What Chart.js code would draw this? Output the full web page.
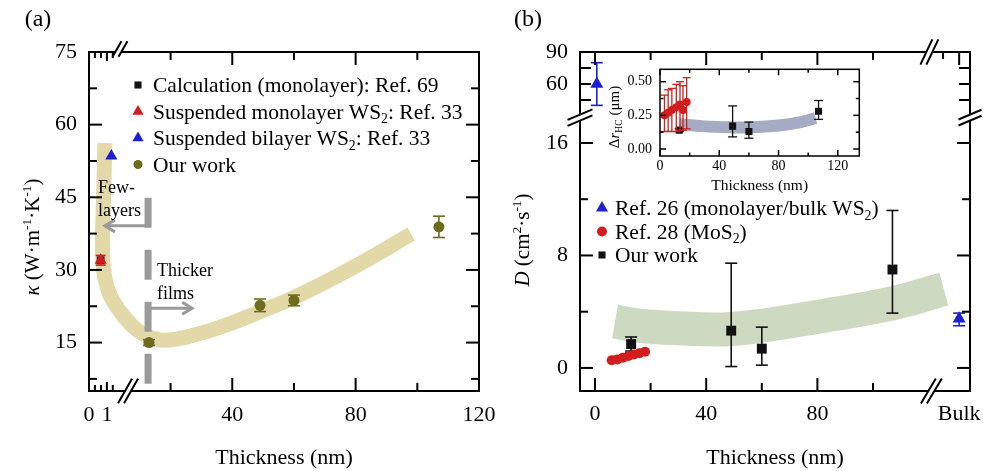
<!DOCTYPE html>
<html lang="en">
<head>
<meta charset="UTF-8">
<title>Thermal conductivity and hot-carrier diffusion vs thickness</title>
<script src="https://cdn.jsdelivr.net/npm/chart.js"></script>
<style>
  body { margin: 0; background: #fff; }
  #wrap { position: relative; width: 983px; height: 471px; }
  canvas { position: absolute; }
  #chartA { left: 0; top: 0; }
  #chartB { left: 490px; top: 0; }
  #inset { left: 596px; top: 60px; }
</style>
</head>
<body>
<div id="wrap">
  <canvas id="chartA" width="505" height="471"></canvas>
  <canvas id="chartB" width="493" height="471"></canvas>
  <canvas id="inset" width="270" height="140"></canvas>
</div>
<script>
// ---------- panel (a): kappa vs thickness ----------
const calcX = [0.65];               // Calculation (monolayer): Ref. 69
const calcK = [32];
const monoX = [0.65];               // Suspended monolayer WS2: Ref. 33
const monoK = [32];
const monoErr = [1];
const biX = [1.25];                 // Suspended bilayer WS2: Ref. 33
const biK = [53.5];
const ourAX = [13, 49, 60, 107];    // Our work
const ourAK = [15, 22.7, 23.7, 38.9];
const ourAErr = [0.6, 1.3, 1.1, 2.2];
// guide to the eye
const bandAX = [0.89, 0.81, 0.75, 0.78, 0.89, 1.11, 1.44, 1.89, 7.7, 12.3, 18.1, 28, 38, 49, 60, 80, 98];
const bandAK = [56.2, 44.4, 36.2, 31.6, 28.3, 25.4, 23.0, 20.7, 18.4, 16.4, 15.5, 16.6, 18.6, 21.4, 24.3, 30.8, 37.4];
const aXMajor = [0, 1, 40, 80, 120];
const aXMinor = [0.33, 0.67, 1.33, 20, 60, 100];
const aYMajor = [15, 30, 45, 60, 75];
const aYMinor = [7.5, 22.5, 37.5, 52.5, 67.5];

// ---------- panel (b): D vs thickness ----------
const ref26X = [0.65, 'Bulk'];      // Ref. 26 (monolayer/bulk WS2)
const ref26D = [60, 3.5];
const ref26Lo = [40, 3.0];
const ref26Hi = [80, 3.9];
const ref28X = [6, 8, 10, 12, 14, 16, 18];   // Ref. 28 (MoS2)
const ref28D = [0.55, 0.6, 0.72, 0.85, 0.95, 1.05, 1.15];
const ref28Err = [0.2, 0.2, 0.2, 0.2, 0.2, 0.2, 0.2];
const ourBX = [13, 49, 60, 107];    // Our work
const ourBD = [1.7, 2.65, 1.37, 7.0];
const ourBLo = [1.2, 0.1, 0.2, 3.9];
const ourBHi = [2.2, 7.45, 2.9, 11.2];
const bandBX = [7.2, 16, 30, 46, 60, 82, 106, 125.5];
const bandBD = [3.3, 3.0, 2.82, 2.74, 3.0, 3.7, 4.55, 5.6];
const bXMajor = [0, 40, 80];
const bXMinor = [20, 60, 100];
const bYMajor = [0, 8, 16, 60, 90];
const bYMinor = [4, 12, 45, 75];

// ---------- inset: delta r_HC vs thickness ----------
const insRedX = [3, 5.5, 8, 11, 13.5, 15.5, 18];
const insRedR = [0.25, 0.27, 0.29, 0.31, 0.33, 0.29, 0.35];
const insRedLo = [0.13, 0.13, 0.13, 0.13, 0.14, 0.14, 0.15];
const insRedHi = [0.40, 0.44, 0.45, 0.48, 0.50, 0.47, 0.53];
const insOurX = [13, 49, 60, 107];
const insOurR = [0.14, 0.17, 0.13, 0.28];
const insOurLo = [0.13, 0.09, 0.08, 0.22];
const insOurHi = [0.15, 0.32, 0.20, 0.36];
const insBandX = [13, 30, 50, 60, 80, 95, 105];
const insBandR = [0.185, 0.168, 0.16, 0.16, 0.175, 0.2, 0.23];
const insXMajor = [0, 40, 80, 120];
const insXMinor = [20, 60, 100];
const insYMajor = [0, 0.25, 0.5];
const insYMinor = [0.125, 0.375];

// ---------- broken axes ----------
// (a): thickness below 2 nm is stretched into the left strip
const A_X0 = -6.45, A_LEFT_SCALE = 5.8, A_LEFT_MAX = 2;
const ax = t => (t <= A_LEFT_MAX ? A_X0 + t * A_LEFT_SCALE : t);
const A_BREAK_TOP = 3.6, A_BREAK_BOTTOM = 6.2;
// (b): D above 20 goes into the compressed top strip, "Bulk" sits right of the break
const B_UP_AT_90 = 22.47, B_UP_K = 0.0759, B_LOW_MAX = 20, B_BULK = 131;
const by = d => (d <= B_LOW_MAX ? d : B_UP_AT_90 + (d - 90) * B_UP_K);
const bx = v => (v === 'Bulk' ? B_BULK : v);
const B_BREAK_X = 121, B_BREAK_Y = 17.8;

const OLIVE = '#6c6c1c', RED = '#d11d1d', BLUE = '#1e1ed4', BLACK = '#111', GREY = '#9a9a9a';
const FONT = '"Liberation Serif", "Times New Roman", serif';
Chart.defaults.font.family = FONT;

function fnt(size, italic) { return (italic ? 'italic ' : '') + size + 'px ' + FONT; }

function seg(ctx, x1, y1, x2, y2) { ctx.beginPath(); ctx.moveTo(x1, y1); ctx.lineTo(x2, y2); ctx.stroke(); }

// parts: [text, kind], kind = 'n' | 'i' | 'sub' | 'sup'; y is the middle of the text
function drawRich(ctx, parts, x, y, size, align) {
  const segs = parts.map(p => {
    const kind = p[1] || 'n';
    const s = (kind === 'sub' || kind === 'sup') ? size * 0.64 : size;
    ctx.font = fnt(s, kind === 'i');
    return { t: p[0], kind, s, w: ctx.measureText(p[0]).width };
  });
  const total = segs.reduce((a, g) => a + g.w, 0);
  let cx = align === 'center' ? x - total / 2 : (align === 'right' ? x - total : x);
  ctx.textAlign = 'left';
  ctx.textBaseline = 'alphabetic';
  const base = y + size * 0.34;
  segs.forEach(g => {
    ctx.font = fnt(g.s, g.kind === 'i');
    let yy = base;
    if (g.kind === 'sub') yy += size * 0.2;
    if (g.kind === 'sup') yy -= size * 0.4;
    ctx.fillText(g.t, cx, yy);
    cx += g.w;
  });
}

function marker(ctx, style, x, y, r, color) {
  ctx.fillStyle = color;
  ctx.beginPath();
  if (style === 'rect') ctx.rect(x - r * 0.707, y - r * 0.707, r * 1.414, r * 1.414);
  else if (style === 'triangle') {
    ctx.moveTo(x, y - r); ctx.lineTo(x + r * 0.866, y + r * 0.5); ctx.lineTo(x - r * 0.866, y + r * 0.5); ctx.closePath();
  } else ctx.arc(x, y, r, 0, Math.PI * 2);
  ctx.fill();
}

// two slanted strokes with the axis wiped out between them
function breakMark(ctx, cx, cy, horizontalAxis, ang, len, gap) {
  const ux = Math.cos(ang) * len / 2, uy = -Math.sin(ang) * len / 2;
  const ox = horizontalAxis ? gap / 2 : 0, oy = horizontalAxis ? 0 : gap / 2;
  const a1 = [cx - ox - ux, cy - oy - uy], a2 = [cx - ox + ux, cy - oy + uy];
  const b1 = [cx + ox - ux, cy + oy - uy], b2 = [cx + ox + ux, cy + oy + uy];
  ctx.save();
  ctx.fillStyle = '#fff';
  ctx.beginPath(); ctx.moveTo(a1[0], a1[1]); ctx.lineTo(a2[0], a2[1]); ctx.lineTo(b2[0], b2[1]); ctx.lineTo(b1[0], b1[1]); ctx.closePath(); ctx.fill();
  ctx.strokeStyle = '#000'; ctx.lineWidth = 2;
  seg(ctx, a1[0], a1[1], a2[0], a2[1]);
  seg(ctx, b1[0], b1[1], b2[0], b2[1]);
  ctx.restore();
}

function arrow(ctx, x1, y, x2) {
  const d = Math.sign(x2 - x1);
  seg(ctx, x1, y, x2, y);
  ctx.beginPath(); ctx.moveTo(x2 - d * 10, y - 6); ctx.lineTo(x2, y); ctx.lineTo(x2 - d * 10, y + 6); ctx.stroke();
}

const pts = (xs, ys, fx, fy) => xs.map((v, i) => ({ x: fx(v), y: fy(ys[i]) }));
const same = v => v;

// error bars are drawn under the markers of each dataset
const errorBars = {
  id: 'errorBars',
  beforeDatasetDraw(chart, args) {
    const ds = chart.data.datasets[args.index];
    if (!ds.errLo) return;
    const ctx = chart.ctx, ys = chart.scales.y;
    ctx.save();
    ctx.strokeStyle = ds.backgroundColor;
    ctx.lineWidth = ds.barWidth || 1.6;
    args.meta.data.forEach((pt, i) => {
      const lo = ys.getPixelForValue(ds.errLo[i]), hi = ys.getPixelForValue(ds.errHi[i]);
      const c = ds.capHalf || 5;
      seg(ctx, pt.x, lo, pt.x, hi);
      seg(ctx, pt.x - c, lo, pt.x + c, lo);
      seg(ctx, pt.x - c, hi, pt.x + c, hi);
    });
    ctx.restore();
  }
};

const baseOptions = (padding, xr, yr) => ({
  responsive: false,
  animation: false,
  events: [],
  layout: { padding },
  scales: {
    x: { type: 'linear', min: xr[0], max: xr[1], display: false },
    y: { type: 'linear', min: yr[0], max: yr[1], display: false }
  },
  plugins: { legend: { display: false }, tooltip: { enabled: false } }
});

// ================= panel (a) =================
const NOTE = { splitT: 12.7, dashTop: 44.9, dashBottom: 5.4, fewK: 39.1, fewTipT: 0.89, thickK: 22.1, thickTipT: 27,
               fewTextT: 0.5, fewK1: 47.1, fewK2: 42.4, thickTextT: 15.6, thickK1: 30, thickK2: 25.2 };
const LEGEND_A = [
  { style: 'rect', r: 5, color: BLACK, text: [['Calculation (monolayer): Ref. 69']] },
  { style: 'triangle', r: 6.5, color: RED, text: [['Suspended monolayer WS'], ['2', 'sub'], [': Ref. 33']] },
  { style: 'triangle', r: 6.5, color: BLUE, text: [['Suspended bilayer WS'], ['2', 'sub'], [': Ref. 33']] },
  { style: 'circle', r: 4.5, color: OLIVE, text: [['Our work']] }
];

const decorA = {
  id: 'decorA',
  afterDatasetDraw(chart, args) {
    if (args.index !== 4) return;
    const { ctx, scales: { x, y } } = chart;
    const px = x.getPixelForValue(ax(NOTE.splitT));
    ctx.save();
    ctx.strokeStyle = GREY;
    ctx.lineWidth = 7;
    ctx.setLineDash([30, 22]);
    seg(ctx, px, y.getPixelForValue(NOTE.dashTop), px, y.getPixelForValue(NOTE.dashBottom));
    ctx.setLineDash([]);
    ctx.lineWidth = 3;
    arrow(ctx, px, y.getPixelForValue(NOTE.fewK), x.getPixelForValue(ax(NOTE.fewTipT)));
    arrow(ctx, px + 3, y.getPixelForValue(NOTE.thickK), x.getPixelForValue(ax(NOTE.thickTipT)));
    ctx.fillStyle = '#000';
    drawRich(ctx, [['Few-']], x.getPixelForValue(ax(NOTE.fewTextT)), y.getPixelForValue(NOTE.fewK1), 18, 'left');
    drawRich(ctx, [['layers']], x.getPixelForValue(ax(NOTE.fewTextT)), y.getPixelForValue(NOTE.fewK2), 18, 'left');
    drawRich(ctx, [['Thicker']], x.getPixelForValue(ax(NOTE.thickTextT)), y.getPixelForValue(NOTE.thickK1), 18, 'left');
    drawRich(ctx, [['films']], x.getPixelForValue(ax(NOTE.thickTextT)), y.getPixelForValue(NOTE.thickK2), 18, 'left');
    ctx.restore();
  },
  afterDraw(chart) {
    const { ctx, chartArea: ca, scales: { x, y } } = chart;
    ctx.save();
    ctx.strokeStyle = '#000'; ctx.fillStyle = '#000'; ctx.lineWidth = 2;
    ctx.strokeRect(ca.left, ca.top, ca.right - ca.left, ca.bottom - ca.top);
    const xt = (t, len) => {
      const p = x.getPixelForValue(ax(t));
      seg(ctx, p, ca.bottom, p, ca.bottom - len);
      seg(ctx, p, ca.top, p, ca.top + len);
    };
    aXMajor.forEach(t => xt(t, t <= A_LEFT_MAX ? 9 : 13));
    aXMinor.forEach(t => xt(t, t <= A_LEFT_MAX ? 6 : 8));
    const yt = (v, len) => {
      const p = y.getPixelForValue(v);
      seg(ctx, ca.left, p, ca.left + len, p);
      seg(ctx, ca.right, p, ca.right - len, p);
    };
    aYMajor.forEach(v => yt(v, 13));
    aYMinor.forEach(v => yt(v, 8));
    breakMark(ctx, x.getPixelForValue(A_BREAK_BOTTOM), ca.bottom, true, 1.05, 28, 6);
    breakMark(ctx, x.getPixelForValue(A_BREAK_TOP), ca.top - 3, true, 1.05, 18, 6);

    ctx.fillStyle = '#000';
    ctx.font = fnt(22); ctx.textAlign = 'center'; ctx.textBaseline = 'middle';
    aXMajor.forEach(t => ctx.fillText(String(t), x.getPixelForValue(ax(t)), ca.bottom + 24));
    ctx.textAlign = 'right';
    aYMajor.forEach(v => ctx.fillText(String(v), ca.left - 12, y.getPixelForValue(v)));

    drawRich(ctx, [['Thickness (nm)']], (ca.left + ca.right) / 2, ca.bottom + 66, 22, 'center');
    ctx.save();
    ctx.translate(32, 237); ctx.rotate(-Math.PI / 2);
    drawRich(ctx, [['κ', 'i'], [' (W·m'], ['-1', 'sup'], ['·K'], ['-1', 'sup'], [')']], 0, 0, 21, 'center');
    ctx.restore();
    drawRich(ctx, [['(a)']], 38, 18, 24, 'center');

    LEGEND_A.forEach((row, i) => {
      const yy = 85 + i * 26.5;
      marker(ctx, row.style, 138, yy, row.r, row.color);
      ctx.fillStyle = '#000';
      drawRich(ctx, row.text, 153, yy, 21.5, 'left');
    });
    ctx.restore();
  }
};

new Chart(document.getElementById('chartA'), {
  type: 'scatter',
  data: {
    datasets: [
      { label: 'Our work', data: pts(ourAX, ourAK, ax, same), pointStyle: 'circle', pointRadius: 5.5,
        backgroundColor: OLIVE, borderColor: OLIVE, borderWidth: 0, capHalf: 6,
        errLo: ourAK.map((v, i) => v - ourAErr[i]), errHi: ourAK.map((v, i) => v + ourAErr[i]) },
      { label: 'Suspended bilayer WS2: Ref. 33', data: pts(biX, biK, ax, same), pointStyle: 'triangle', pointRadius: 7,
        backgroundColor: BLUE, borderColor: BLUE, borderWidth: 0 },
      { label: 'Suspended monolayer WS2: Ref. 33', data: pts(monoX, monoK, ax, same), pointStyle: 'triangle', pointRadius: 7,
        backgroundColor: RED, borderColor: RED, borderWidth: 0, capHalf: 5,
        errLo: monoK.map((v, i) => v - monoErr[i]), errHi: monoK.map((v, i) => v + monoErr[i]) },
      { label: 'Calculation (monolayer): Ref. 69', data: pts(calcX, calcK, ax, same), pointStyle: 'rect', pointRadius: 5.5,
        backgroundColor: BLACK, borderColor: BLACK, borderWidth: 0 },
      { label: 'guide', data: pts(bandAX, bandAK, ax, same), showLine: true, pointRadius: 0, borderWidth: 15,
        borderColor: 'rgb(226,216,168)', tension: 0.4, borderCapStyle: 'butt', fill: false }
    ]
  },
  options: baseOptions({ left: 89, right: 26, top: 52, bottom: 80 }, [ax(0), 120], [5, 75]),
  plugins: [errorBars, decorA]
});

// ================= panel (b) =================
const LEGEND_B = [
  { style: 'triangle', r: 7, color: BLUE, text: [['Ref. 26 (monolayer/bulk WS'], ['2', 'sub'], [')']] },
  { style: 'circle', r: 5, color: RED, text: [['Ref. 28 (MoS'], ['2', 'sub'], [')']] },
  { style: 'rect', r: 5, color: BLACK, text: [['Our work']] }
];

const decorB = {
  id: 'decorB',
  afterDraw(chart) {
    const { ctx, chartArea: ca, scales: { x, y } } = chart;
    ctx.save();
    ctx.strokeStyle = '#000'; ctx.fillStyle = '#000'; ctx.lineWidth = 2;
    ctx.strokeRect(ca.left, ca.top, ca.right - ca.left, ca.bottom - ca.top);
    const xt = (t, len, bottom) => {
      const p = x.getPixelForValue(bx(t));
      if (bottom) seg(ctx, p, ca.bottom, p, ca.bottom - len);
      seg(ctx, p, ca.top, p, ca.top + len);
    };
    bXMajor.forEach(t => xt(t, 13, true));
    bXMinor.forEach(t => xt(t, 8, true));
    xt(125.2, 7, false);
    xt('Bulk', 13, false);
    const yt = (v, len) => {
      const p = y.getPixelForValue(by(v));
      seg(ctx, ca.left, p, ca.left + len, p);
      seg(ctx, ca.right, p, ca.right - len, p);
    };
    bYMajor.forEach(v => yt(v, v > B_LOW_MAX ? 11 : 13));
    bYMinor.forEach(v => yt(v, v > B_LOW_MAX ? 11 : 8));
    breakMark(ctx, x.getPixelForValue(B_BREAK_X), ca.bottom, true, 1.03, 29, 6);
    breakMark(ctx, x.getPixelForValue(B_BREAK_X) - 2, ca.top, true, 1.13, 28, 6);
    breakMark(ctx, ca.left, y.getPixelForValue(B_BREAK_Y), false, 0.4, 27, 6);
    breakMark(ctx, ca.right, y.getPixelForValue(B_BREAK_Y), false, 0.4, 25, 6);

    ctx.fillStyle = '#000';
    ctx.font = fnt(22); ctx.textAlign = 'center'; ctx.textBaseline = 'middle';
    bXMajor.forEach(t => ctx.fillText(String(t), x.getPixelForValue(t), ca.bottom + 23));
    ctx.fillText('Bulk', x.getPixelForValue(B_BULK), ca.bottom + 23);
    ctx.textAlign = 'right';
    bYMajor.forEach(v => ctx.fillText(String(v), ca.left - 12, y.getPixelForValue(by(v))));

    drawRich(ctx, [['Thickness (nm)']], (ca.left + ca.right) / 2, ca.bottom + 66, 22, 'center');
    ctx.save();
    ctx.translate(32, 240); ctx.rotate(-Math.PI / 2);
    drawRich(ctx, [['D', 'i'], [' (cm'], ['2', 'sup'], ['·s'], ['-1', 'sup'], [')']], 0, 0, 21, 'center');
    ctx.restore();
    drawRich(ctx, [['(b)']], 38, 18, 24, 'center');

    LEGEND_B.forEach((row, i) => {
      const yy = 208 + i * 23.5;
      marker(ctx, row.style, 112, yy, row.r, row.color);
      ctx.fillStyle = '#000';
      drawRich(ctx, row.text, 125, yy, 21.5, 'left');
    });
    ctx.restore();
  }
};

new Chart(document.getElementById('chartB'), {
  type: 'scatter',
  data: {
    datasets: [
      { label: 'Ref. 26 (monolayer/bulk WS2)', data: pts(ref26X, ref26D, bx, by), pointStyle: 'triangle', pointRadius: 7.5,
        backgroundColor: BLUE, borderColor: BLUE, borderWidth: 0, capHalf: 6,
        errLo: ref26Lo.map(by), errHi: ref26Hi.map(by) },
      { label: 'Ref. 28 (MoS2)', data: pts(ref28X, ref28D, bx, by), pointStyle: 'circle', pointRadius: 5,
        backgroundColor: RED, borderColor: RED, borderWidth: 0, capHalf: 3.5,
        errLo: ref28D.map((v, i) => v - ref28Err[i]), errHi: ref28D.map((v, i) => v + ref28Err[i]) },
      { label: 'Our work', data: pts(ourBX, ourBD, bx, by), pointStyle: 'rect', pointRadius: 7,
        backgroundColor: BLACK, borderColor: BLACK, borderWidth: 0, capHalf: 6,
        errLo: ourBLo.map(by), errHi: ourBHi.map(by) },
      { label: 'guide', data: pts(bandBX, bandBD, bx, by), showLine: true, pointRadius: 0, borderWidth: 34,
        borderColor: 'rgb(205,217,192)', tension: 0.4, borderCapStyle: 'butt', fill: false }
    ]
  },
  options: baseOptions({ left: 90, right: 13, top: 52, bottom: 80 }, [-5.4, 134.9], [-1.64, B_UP_AT_90]),
  plugins: [errorBars, decorB]
});

// ================= inset =================
const decorInset = {
  id: 'decorInset',
  afterDraw(chart) {
    const { ctx, chartArea: ca, scales: { x, y } } = chart;
    ctx.save();
    ctx.strokeStyle = '#000'; ctx.fillStyle = '#000'; ctx.lineWidth = 1.5;
    ctx.strokeRect(ca.left, ca.top, ca.right - ca.left, ca.bottom - ca.top);
    const xt = (t, len) => {
      const p = x.getPixelForValue(t);
      seg(ctx, p, ca.bottom, p, ca.bottom - len);
      seg(ctx, p, ca.top, p, ca.top + len);
    };
    insXMajor.forEach(t => xt(t, 6));
    insXMinor.forEach(t => xt(t, 3.5));
    const yt = (v, len) => {
      const p = y.getPixelForValue(v);
      seg(ctx, ca.left, p, ca.left + len, p);
      seg(ctx, ca.right, p, ca.right - len, p);
    };
    insYMajor.forEach(v => yt(v, 6));
    insYMinor.forEach(v => yt(v, 3.5));

    ctx.font = fnt(14); ctx.textAlign = 'center'; ctx.textBaseline = 'middle';
    insXMajor.forEach(t => ctx.fillText(String(t), x.getPixelForValue(t), ca.bottom + 10));
    ctx.textAlign = 'right';
    insYMajor.forEach(v => ctx.fillText(v.toFixed(2), ca.left - 8, y.getPixelForValue(v)));
    drawRich(ctx, [['Thickness (nm)']], (ca.left + ca.right) / 2, ca.bottom + 29, 15.5, 'center');
    ctx.save();
    ctx.translate(18, 57); ctx.rotate(-Math.PI / 2);
    drawRich(ctx, [['Δ'], ['r', 'i'], ['HC', 'sub'], [' (μm)']], 0, 0, 15, 'center');
    ctx.restore();
    ctx.restore();
  }
};

new Chart(document.getElementById('inset'), {
  type: 'scatter',
  data: {
    datasets: [
      { label: 'Ref. 28 (MoS2)', data: pts(insRedX, insRedR, same, same), pointStyle: 'circle', pointRadius: 4,
        backgroundColor: RED, borderColor: RED, borderWidth: 0, capHalf: 4, barWidth: 1.3,
        errLo: insRedLo, errHi: insRedHi },
      { label: 'Our work', data: pts(insOurX, insOurR, same, same), pointStyle: 'rect', pointRadius: 5,
        backgroundColor: BLACK, borderColor: BLACK, borderWidth: 0, capHalf: 4.5, barWidth: 1.3,
        errLo: insOurLo, errHi: insOurHi },
      { label: 'guide', data: pts(insBandX, insBandR, same, same), showLine: true, pointRadius: 0, borderWidth: 12,
        borderColor: 'rgb(166,171,196)', tension: 0.4, borderCapStyle: 'butt', fill: false }
    ]
  },
  options: baseOptions({ left: 64, right: 6.7, top: 9.3, bottom: 44 }, [0, 134.5], [-0.052, 0.592]),
  plugins: [errorBars, decorInset]
});
</script>
</body>
</html>
